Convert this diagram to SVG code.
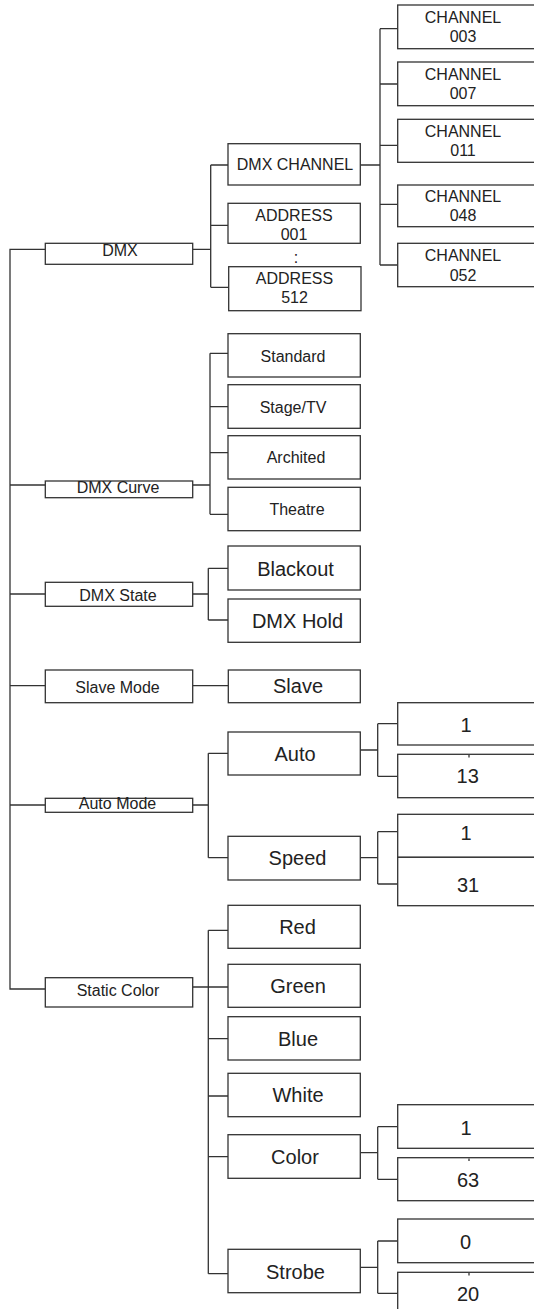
<svg xmlns="http://www.w3.org/2000/svg" width="534" height="1309" viewBox="0 0 534 1309">
<style>
.box{fill:#fff;stroke:#333;stroke-width:1.3}
.ln{fill:none;stroke:#333;stroke-width:1.3}
text{font-family:"Liberation Sans",Arial,sans-serif;font-size:16px;fill:#222;text-anchor:middle}
.b{font-size:20px}
</style>
<rect width="534" height="1309" fill="#fff"/>
<g id="connectors" class="ln">
<path d="M45.3,249.3H10V989H45.3M10,485H45.3M10,594H45.3M10,685.7H45.3M10,805H45.3"/>
<path d="M192.7,249.3H210.7M210.7,165V287.3M210.7,165H228M210.7,225.3H228M210.7,287.3H228.7"/>
<path d="M360.3,165H380M380,28.7V265M380,28.7H397.7M380,84H397.7M380,145.3H397.7M380,204.3H397.7M380,265H397.7"/>
<path d="M192.7,485H210M210,353.3V514.3M210,353.3H228M210,406.7H228M210,452.7H228M210,514.3H228"/>
<path d="M192.7,594H208.3M208.3,568.3V620M208.3,568.3H228M208.3,620H228"/>
<path d="M192.7,685.7H228.3"/>
<path d="M192.7,805H208.3M208.3,753.3V857.7M208.3,753.3H228M208.3,857.7H228"/>
<path d="M360.3,750H377.7M377.7,723.7V776.3M377.7,723.7H397.7M377.7,776.3H397.7"/>
<path d="M360.3,857.7H377.7M377.7,831.7V884M377.7,831.7H397.7M377.7,884H397.7"/>
<path d="M192.7,987H208.3M208.3,930.3V1273.7M208.3,930.3H228M208.3,987H228M208.3,1038.7H228M208.3,1096H228M208.3,1156.7H228M208.3,1273.7H228"/>
<path d="M360.3,1152.7H377.7M377.7,1126.7V1179.3M377.7,1126.7H397.7M377.7,1179.3H397.7"/>
<path d="M360.3,1267.3H377.7M377.7,1241V1293.3M377.7,1241H397.7M377.7,1293.3H397.7"/>
</g>
<g id="n-dmx"><rect class="box" x="45.3" y="243.3" width="147.4" height="21"/><text x="120" y="256">DMX</text></g>
<g id="n-dmxcurve"><rect class="box" x="45.3" y="481" width="147.4" height="16.7"/><text x="118" y="493">DMX Curve</text></g>
<g id="n-dmxstate"><rect class="box" x="45.3" y="582.3" width="147.4" height="24"/><text x="118" y="600.5">DMX State</text></g>
<g id="n-slavemode"><rect class="box" x="45.3" y="670" width="147.4" height="32.7"/><text x="117.5" y="692.5">Slave Mode</text></g>
<g id="n-automode"><rect class="box" x="45.3" y="798.3" width="147.4" height="14"/><text x="117.5" y="809.3">Auto Mode</text></g>
<g id="n-staticcolor"><rect class="box" x="45.3" y="977.7" width="147.4" height="29.3"/><text x="118" y="996">Static Color</text></g>
<g id="n-dmxchannel"><rect class="box" x="228" y="143.7" width="132.3" height="41.3"/><text x="295" y="170">DMX CHANNEL</text></g>
<g id="n-address001"><rect class="box" x="228" y="203.3" width="132.3" height="40"/><text x="294" y="221">ADDRESS</text><text x="294" y="240">001</text></g>
<g id="n-ellipsis"><text x="296" y="262.5">:</text></g>
<g id="n-address512"><rect class="box" x="228.7" y="266.7" width="132.3" height="44"/><text x="294.5" y="284">ADDRESS</text><text x="294.5" y="303.3">512</text></g>
<g id="n-standard"><rect class="box" x="228" y="333.7" width="132.3" height="43.3"/><text x="293" y="361.5">Standard</text></g>
<g id="n-stagetv"><rect class="box" x="228" y="384.7" width="132.3" height="43.6"/><text x="293" y="413.3">Stage/TV</text></g>
<g id="n-archited"><rect class="box" x="228" y="435.7" width="132.3" height="43.3"/><text x="296" y="463.3">Archited</text></g>
<g id="n-theatre"><rect class="box" x="228" y="487.3" width="132.3" height="43.4"/><text x="297" y="515">Theatre</text></g>
<g id="n-blackout"><rect class="box" x="228" y="546" width="132.3" height="44"/><text class="b" x="295.5" y="575.5">Blackout</text></g>
<g id="n-dmxhold"><rect class="box" x="228" y="599" width="132.3" height="43.3"/><text class="b" x="297.5" y="627.7">DMX Hold</text></g>
<g id="n-slave"><rect class="box" x="228.3" y="670" width="132" height="32.7"/><text class="b" x="298" y="693.3">Slave</text></g>
<g id="n-auto"><rect class="box" x="228" y="732" width="132.3" height="43"/><text class="b" x="295" y="761.3">Auto</text></g>
<g id="n-speed"><rect class="box" x="228" y="836.3" width="132.3" height="43.7"/><text class="b" x="297.5" y="864.7">Speed</text></g>
<g id="n-red"><rect class="box" x="228" y="905.3" width="132.3" height="43"/><text class="b" x="297.5" y="933.7">Red</text></g>
<g id="n-green"><rect class="box" x="228" y="964.3" width="132.3" height="43"/><text class="b" x="298" y="993.2">Green</text></g>
<g id="n-blue"><rect class="box" x="228" y="1016.7" width="132.3" height="43.3"/><text class="b" x="298" y="1045.5">Blue</text></g>
<g id="n-white"><rect class="box" x="228" y="1073.3" width="132.3" height="43.4"/><text class="b" x="298" y="1102">White</text></g>
<g id="n-color"><rect class="box" x="228" y="1134.7" width="132.3" height="43.6"/><text class="b" x="295" y="1164">Color</text></g>
<g id="n-strobe"><rect class="box" x="228" y="1249.3" width="132.3" height="43.4"/><text class="b" x="295.5" y="1279">Strobe</text></g>
<g id="n-ch003"><rect class="box" x="397.7" y="5" width="150" height="43.7"/><text x="463" y="23.3">CHANNEL</text><text x="463" y="42.3">003</text></g>
<g id="n-ch007"><rect class="box" x="397.7" y="62" width="150" height="43.7"/><text x="463" y="80">CHANNEL</text><text x="463" y="99">007</text></g>
<g id="n-ch011"><rect class="box" x="397.7" y="119.3" width="150" height="43"/><text x="463" y="136.7">CHANNEL</text><text x="463" y="156">011</text></g>
<g id="n-ch048"><rect class="box" x="397.7" y="185" width="150" height="41.7"/><text x="463" y="202.3">CHANNEL</text><text x="463" y="221">048</text></g>
<g id="n-ch052"><rect class="box" x="397.7" y="243.3" width="150" height="43.4"/><text x="463" y="261">CHANNEL</text><text x="463" y="280.7">052</text></g>
<g id="n-auto1"><rect class="box" x="397.7" y="702.7" width="150" height="42.3"/><text class="b" x="466" y="731.5">1</text></g>
<g id="n-auto13"><rect class="box" x="397.7" y="754.3" width="150" height="43.4"/><text class="b" x="467.7" y="783.3">13</text><path class="ln" d="M469,755V757.5"/></g>
<g id="n-speed1"><rect class="box" x="397.7" y="814.3" width="150" height="43"/><text class="b" x="466" y="840">1</text></g>
<g id="n-speed31"><rect class="box" x="397.7" y="857.3" width="150" height="48.4"/><text class="b" x="468" y="891.7">31</text></g>
<g id="n-color1"><rect class="box" x="397.7" y="1104.7" width="150" height="43.6"/><text class="b" x="466" y="1135">1</text></g>
<g id="n-color63"><rect class="box" x="397.7" y="1157.7" width="150" height="43"/><text class="b" x="468" y="1187.3">63</text><path class="ln" d="M469,1158.4V1160.9"/></g>
<g id="n-strobe0"><rect class="box" x="397.7" y="1219" width="150" height="43.7"/><text class="b" x="465.5" y="1248.7">0</text></g>
<g id="n-strobe20"><rect class="box" x="397.7" y="1272.3" width="150" height="44"/><text class="b" x="468" y="1301">20</text><path class="ln" d="M469,1273V1275.5"/></g>
</svg>
